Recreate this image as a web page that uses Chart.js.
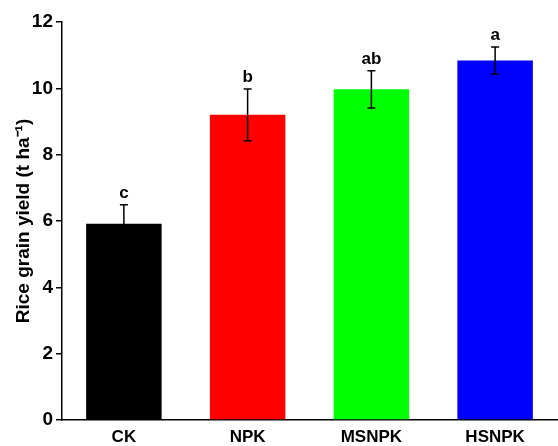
<!DOCTYPE html>
<html>
<head>
<meta charset="utf-8">
<script src="https://cdn.jsdelivr.net/npm/chart.js@4"></script>
<style>
  html, body { margin: 0; padding: 0; background: #fff; }
  #wrap { width: 558px; height: 446px; }
</style>
</head>
<body>
<div id="wrap"><canvas id="yieldChart"></canvas></div>
<script>
"use strict";

// data
const treatments = ["CK", "NPK", "MSNPK", "HSNPK"];
const yieldMean = [5.92, 9.2, 9.97, 10.84];
const yieldErr = [0.57, 0.78, 0.56, 0.41];
const sigLetters = ["c", "b", "ab", "a"];
const barColors = ["#000000", "#ff0000", "#00ff00", "#0000ff"];
const yTicks = [0, 2, 4, 6, 8, 10, 12];

const FONT = "'Liberation Sans', Arial, sans-serif";

// error bars + significance letters, placed with the chart's scales
const errorBars = {
  id: "errorBars",
  afterDatasetsDraw(chart) {
    const ctx = chart.ctx;
    const x = chart.scales.x;
    const y = chart.scales.y;
    ctx.save();
    ctx.strokeStyle = "#000";
    ctx.lineWidth = 1.5;
    yieldMean.forEach((m, i) => {
      const cx = x.getPixelForValue(i);
      const top = y.getPixelForValue(m + yieldErr[i]);
      const bot = y.getPixelForValue(m - yieldErr[i]);
      ctx.beginPath();
      ctx.moveTo(cx, top);
      ctx.lineTo(cx, bot);
      ctx.moveTo(cx - 4, top);
      ctx.lineTo(cx + 4, top);
      ctx.moveTo(cx - 4, bot);
      ctx.lineTo(cx + 4, bot);
      ctx.stroke();

      ctx.fillStyle = "#000";
      ctx.font = "bold 17px " + FONT;
      ctx.textAlign = "center";
      ctx.textBaseline = "bottom";
      ctx.fillText(sigLetters[i], cx, top - 3);
    });
    ctx.restore();
  }
};

const ctx = document.getElementById("yieldChart").getContext("2d");
new Chart(ctx, {
  type: "bar",
  data: {
    labels: treatments,
    datasets: [
      {
        data: yieldMean,
        backgroundColor: barColors,
        borderWidth: 0,
        barPercentage: 0.61,
        categoryPercentage: 1
      }
    ]
  },
  options: {
    responsive: true,
    maintainAspectRatio: false,
    animation: false,
    layout: { padding: { top: 22, right: 1, left: 0, bottom: 0 } },
    plugins: {
      legend: { display: false },
      tooltip: { enabled: false }
    },
    scales: {
      x: {
        grid: { display: false, drawTicks: false },
        border: { display: true, color: "#000", width: 1.5 },
        ticks: {
          color: "#000",
          padding: 7,
          font: { family: FONT, size: 17, weight: "bold" }
        },
        afterFit(scale) { scale.height = 26; }
      },
      y: {
        min: 0,
        max: 12,
        afterBuildTicks(scale) {
          scale.ticks = yTicks.map((v) => ({ value: v }));
        },
        grid: {
          drawOnChartArea: false,
          drawTicks: true,
          tickLength: 6,
          color: "#000",
          lineWidth: 1.5
        },
        border: { display: true, color: "#000", width: 1.5 },
        ticks: {
          color: "#000",
          padding: 3,
          font: { family: FONT, size: 19, weight: "bold" }
        },
        title: {
          display: true,
          text: "Rice grain yield (t ha\u207B\u00B9)",
          color: "#000",
          padding: { top: 12, bottom: 0 },
          font: { family: FONT, size: 19, weight: "bold" }
        },
        afterFit(scale) { scale.width = 62; }
      }
    }
  },
  plugins: [errorBars]
});
</script>
</body>
</html>
